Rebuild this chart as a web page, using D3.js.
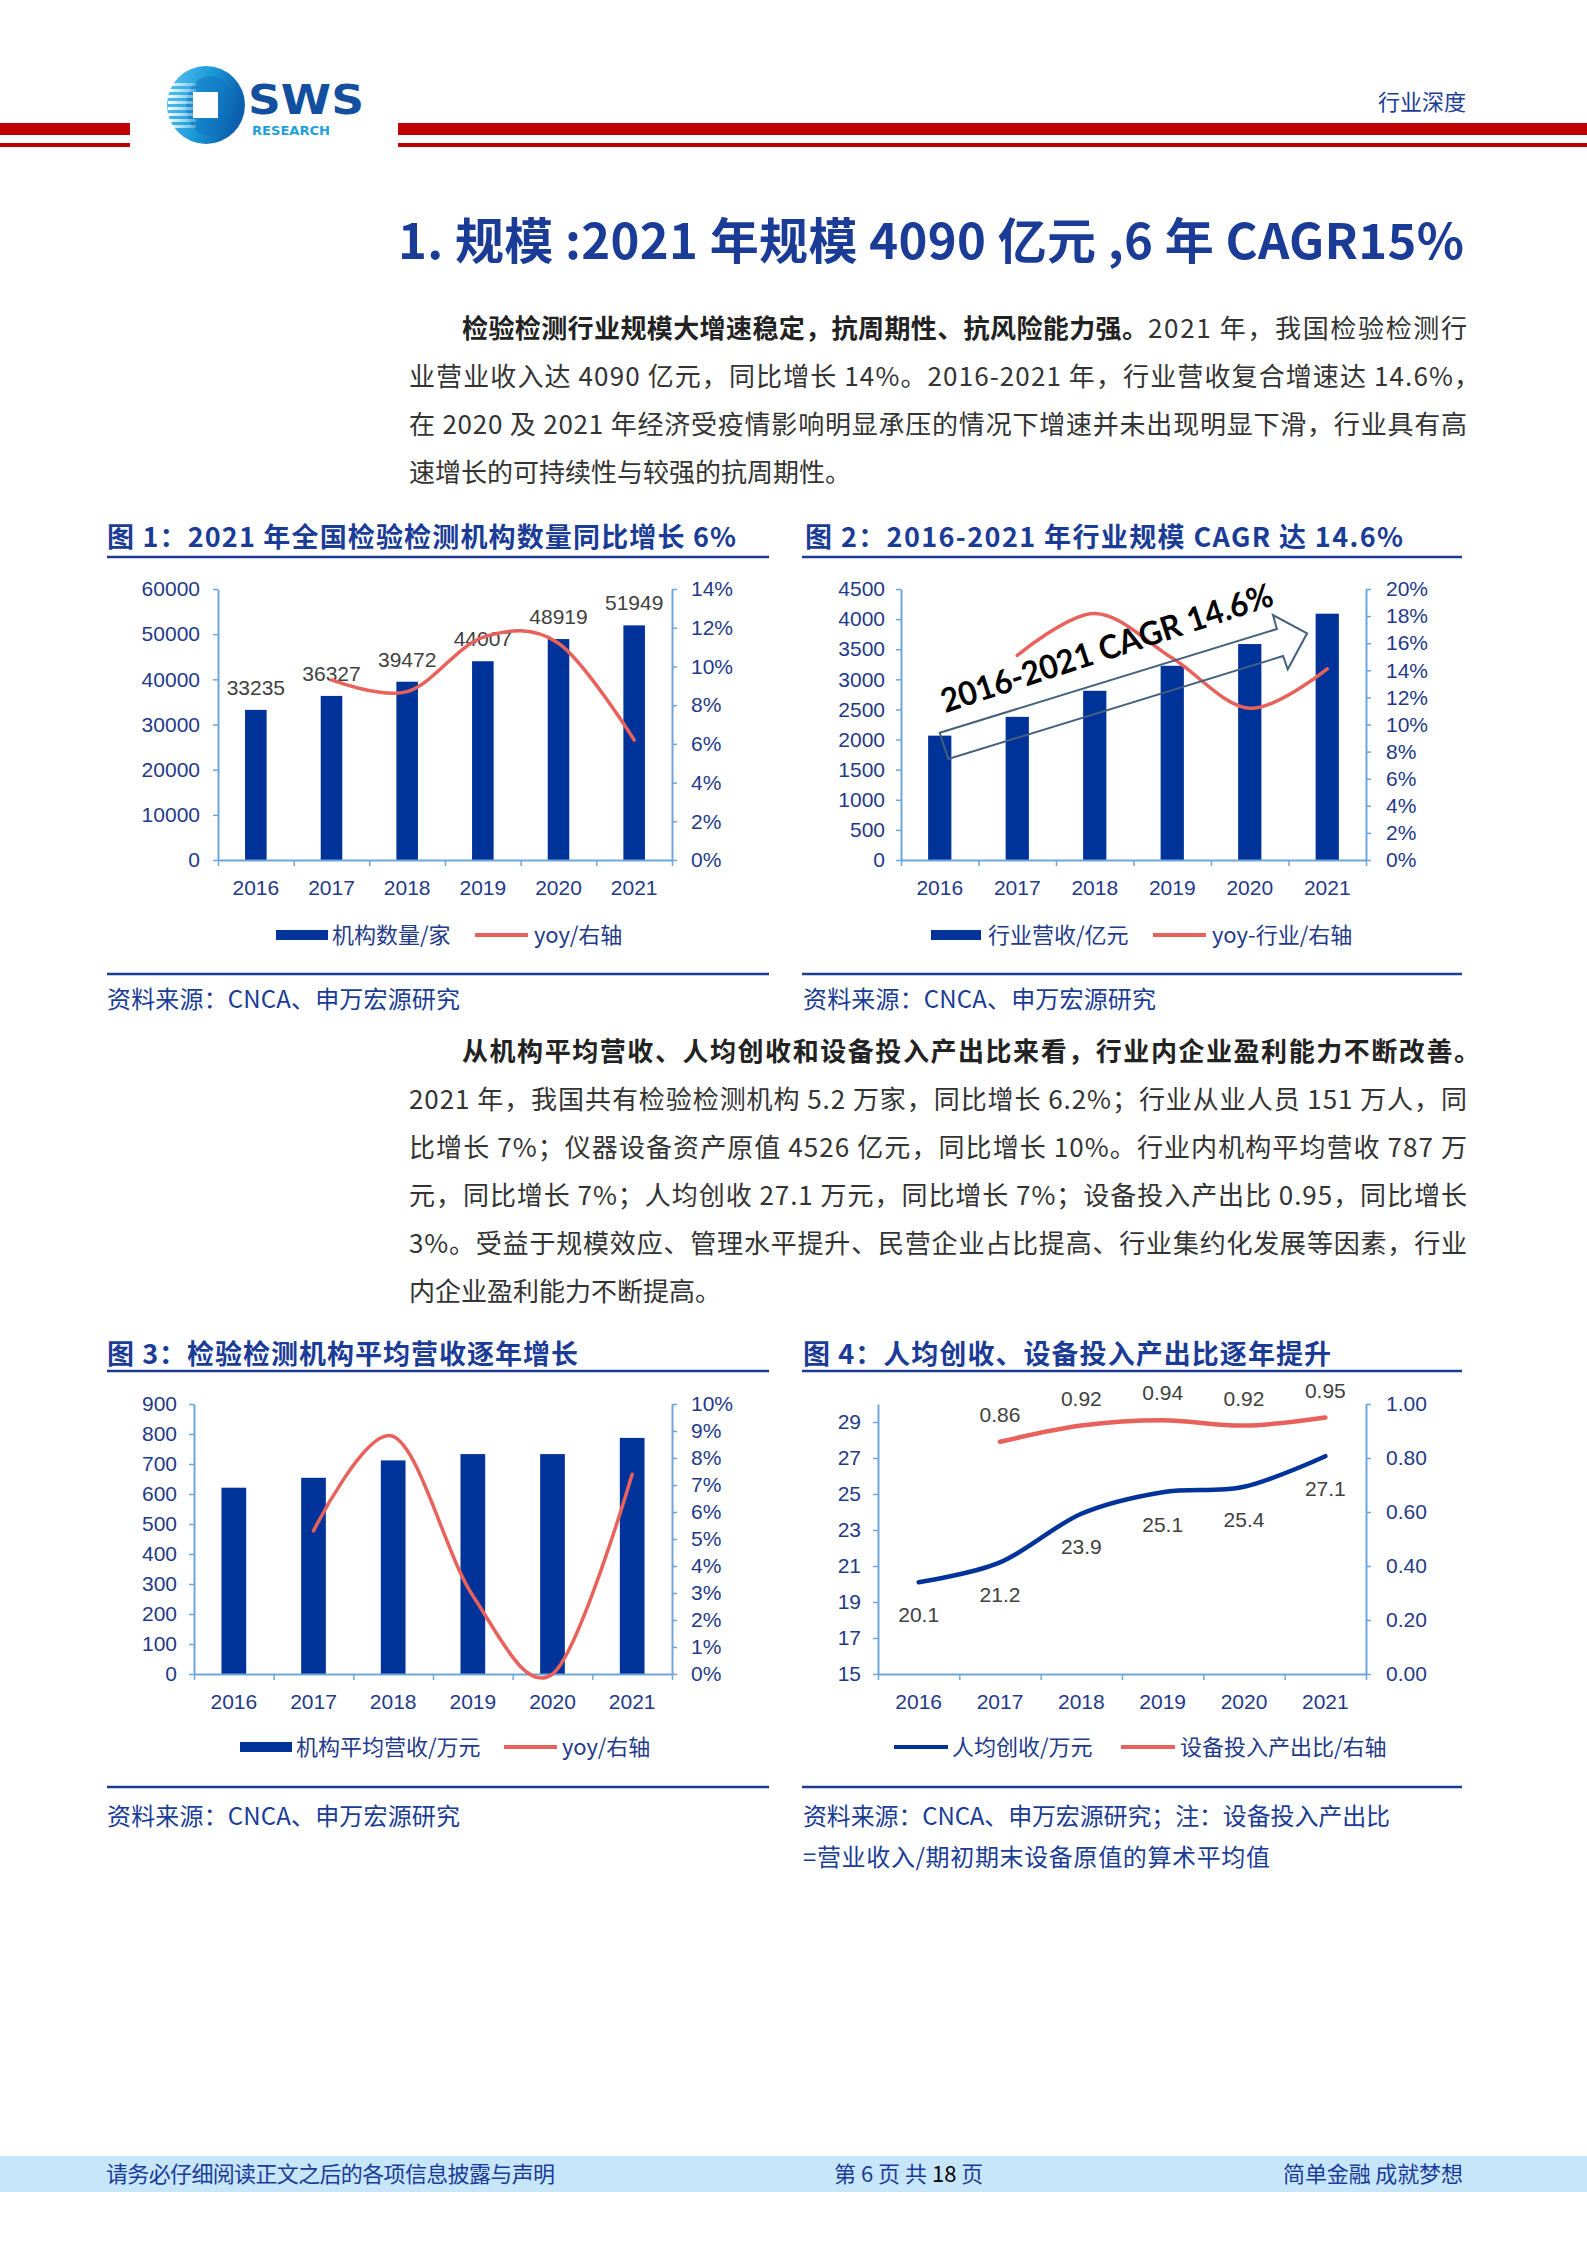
<!DOCTYPE html>
<html>
<head>
<meta charset="utf-8">
<script src="https://cdn.jsdelivr.net/npm/d3@7"></script>
<style>
  body { margin: 0; background: #fff; }
  svg { display: block; }
</style>
</head>
<body>
<script>
// ---- data ----
var years = ['2016', '2017', '2018', '2019', '2020', '2021'];

var orgCount = [33235, 36327, 39472, 44007, 48919, 51949];
var orgYoy = [null, 9.3, 8.7, 11.5, 11.2, 6.2];
var orgTicks = [0, 10000, 20000, 30000, 40000, 50000, 60000];
var orgYoyTicks = [0, 2, 4, 6, 8, 10, 12, 14];

var revenue = [2065, 2377, 2810, 3225, 3586, 4090];
var revenueYoy = [null, 15.1, 18.2, 14.9, 11.2, 14.1];
var revenueTicks = [0, 500, 1000, 1500, 2000, 2500, 3000, 3500, 4000, 4500];
var revenueYoyTicks = [0, 2, 4, 6, 8, 10, 12, 14, 16, 18, 20];

var avgRevenue = [621, 654, 712, 733, 733, 787];
var avgRevenueYoy = [null, 5.3, 8.8, 2.9, 0.0, 7.4];
var avgTicks = [0, 100, 200, 300, 400, 500, 600, 700, 800, 900];
var avgYoyTicks = [0, 1, 2, 3, 4, 5, 6, 7, 8, 9, 10];

var perCapita = [20.1, 21.2, 23.9, 25.1, 25.4, 27.1];
var outputRatio = [null, 0.86, 0.92, 0.94, 0.92, 0.95];
var perCapitaTicks = [15, 17, 19, 21, 23, 25, 27, 29];
var ratioTicks = [0, 0.2, 0.4, 0.6, 0.8, 1.0];

// CAGR arrow outline in (category index, value) units of chart 2
var cagrArrow = [[0.0, 2114], [4.35, 3836], [4.30, 4068], [4.74, 3764], [4.49, 3167], [4.43, 3387], [0.11, 1677]];
var cagrLabel = '2016-2021 CAGR 14.6%';
var cagrFrom = [0.07, 2441], cagrTo = [4.33, 4234];

var para1 = [
  '检验检测行业规模大增速稳定，抗周期性、抗风险能力强。',
  '2021 年，我国检验检测行',
  '业营业收入达 4090 亿元，同比增长 14%。2016-2021 年，行业营收复合增速达 14.6%，',
  '在 2020 及 2021 年经济受疫情影响明显承压的情况下增速并未出现明显下滑，行业具有高',
  '速增长的可持续性与较强的抗周期性。'
];
var para2 = [
  '从机构平均营收、人均创收和设备投入产出比来看，行业内企业盈利能力不断改善。',
  '2021 年，我国共有检验检测机构 5.2 万家，同比增长 6.2%；行业从业人员 151 万人，同',
  '比增长 7%；仪器设备资产原值 4526 亿元，同比增长 10%。行业内机构平均营收 787 万',
  '元，同比增长 7%；人均创收 27.1 万元，同比增长 7%；设备投入产出比 0.95，同比增长',
  '3%。受益于规模效应、管理水平提升、民营企业占比提高、行业集约化发展等因素，行业',
  '内企业盈利能力不断提高。'
];

// ---- style ----
var CJK = '"Noto Sans CJK SC", "Noto Sans", sans-serif';
var NUM = '"Liberation Sans", Arial, sans-serif';
var BLUE = '#1a3c96';
var TICK = '#1f3a8a';
var BAR = '#003399';
var RED = '#e8615a';
var AXIS = '#6ea6dc';
var LABEL = '#404040';
var TEXT = '#333333';

var W = 1587, H = 2245;
var svg = d3.select('body').append('svg').attr('width', W).attr('height', H);
svg.append('rect').attr('width', W).attr('height', H).attr('fill', '#fff');

function txt(parent, x, y, s, o) {
  o = o || {};
  var t = parent.append('text')
    .attr('x', x).attr('y', y)
    .attr('font-family', o.family || CJK)
    .attr('font-size', o.size || 26)
    .attr('font-weight', o.weight || 'normal')
    .attr('fill', o.fill || TEXT)
    .text(s);
  if (o.len) t.attr('textLength', o.len).attr('lengthAdjust', o.adjust || 'spacing');
  if (o.anchor) t.attr('text-anchor', o.anchor);
  return t;
}

// ---- header ----
var defs = svg.append('defs');
var ring = defs.append('linearGradient').attr('id', 'ring').attr('x1', 0).attr('x2', 1).attr('y1', 0).attr('y2', 0.3);
ring.append('stop').attr('offset', 0).attr('stop-color', '#5cc6f3');
ring.append('stop').attr('offset', 0.55).attr('stop-color', '#1b9ad8');
ring.append('stop').attr('offset', 1).attr('stop-color', '#0c5fae');
var fade = defs.append('linearGradient').attr('id', 'fade').attr('x1', 0).attr('x2', 1);
fade.append('stop').attr('offset', 0).attr('stop-color', '#fff').attr('stop-opacity', 0.95);
fade.append('stop').attr('offset', 1).attr('stop-color', '#fff').attr('stop-opacity', 0.25);

var logo = svg.append('g');
logo.append('circle').attr('cx', 206).attr('cy', 105).attr('r', 39).attr('fill', 'url(#ring)');
logo.append('ellipse').attr('cx', 210).attr('cy', 106).attr('rx', 24).attr('ry', 30).attr('fill', '#0e6cbb').attr('opacity', 0.45);
[83, 89, 95, 101, 107, 113, 119, 125].forEach(function(y) {
  logo.append('rect').attr('x', 168).attr('y', y).attr('width', 28).attr('height', 3).attr('fill', 'url(#fade)');
});
logo.append('rect').attr('x', 193).attr('y', 92).attr('width', 25).attr('height', 26).attr('fill', '#fff');
txt(logo, 248, 114, 'SWS', { family: '"DejaVu Sans", sans-serif', size: 40, weight: 'bold', fill: '#12509f', len: 116, adjust: 'spacingAndGlyphs' });
txt(logo, 252, 135, 'RESEARCH', { family: '"DejaVu Sans", sans-serif', size: 12, weight: 'bold', fill: '#1ea0dc', len: 78, adjust: 'spacingAndGlyphs' });

svg.append('rect').attr('x', 0).attr('y', 123).attr('width', 130).attr('height', 12).attr('fill', '#c00000');
svg.append('rect').attr('x', 0).attr('y', 143).attr('width', 130).attr('height', 4).attr('fill', '#c00000');
svg.append('rect').attr('x', 398).attr('y', 123).attr('width', W - 398).attr('height', 12).attr('fill', '#c00000');
svg.append('rect').attr('x', 398).attr('y', 143).attr('width', W - 398).attr('height', 4).attr('fill', '#c00000');
txt(svg, 1378, 110, '行业深度', { size: 22, fill: BLUE });

// ---- title and text ----
txt(svg, 398, 259, '1.  规模 :2021 年规模 4090 亿元 ,6 年 CAGR15%', { size: 49, weight: 'bold', fill: BLUE, len: 1066 });

txt(svg, 462, 338, para1[0], { weight: 'bold', fill: '#222', len: 686 });
txt(svg, 1148, 338, para1[1], { len: 319 });
txt(svg, 409, 386, para1[2], { len: 1071 });
txt(svg, 409, 434, para1[3], { len: 1058 });
txt(svg, 409, 482, para1[4]);

txt(svg, 462, 1061, para2[0], { weight: 'bold', fill: '#222', len: 1018 });
[1, 2, 3, 4].forEach(function(i) {
  txt(svg, 409, 1061 + 48 * i, para2[i], { len: 1058 });
});
txt(svg, 409, 1301, para2[5]);

// ---- chart frames ----
function rule(x0, x1, y) {
  svg.append('line').attr('x1', x0).attr('x2', x1).attr('y1', y).attr('y2', y)
    .attr('stroke', '#1c3c94').attr('stroke-width', 2.5);
}
rule(107, 769, 557); rule(802, 1462, 557);
rule(107, 769, 974); rule(802, 1462, 974);
rule(107, 769, 1371); rule(802, 1462, 1371);
rule(107, 769, 1787); rule(802, 1462, 1787);

txt(svg, 107, 547, '图 1：2021 年全国检验检测机构数量同比增长 6%', { size: 27, weight: 'bold', fill: BLUE, len: 629 });
txt(svg, 805, 547, '图 2：2016-2021 年行业规模 CAGR 达 14.6%', { size: 27, weight: 'bold', fill: BLUE, len: 598 });
txt(svg, 107, 1364, '图 3：检验检测机构平均营收逐年增长', { size: 27, weight: 'bold', fill: BLUE, len: 471 });
txt(svg, 803, 1364, '图 4：人均创收、设备投入产出比逐年提升', { size: 27, weight: 'bold', fill: BLUE, len: 528 });

txt(svg, 107, 1008, '资料来源：CNCA、申万宏源研究', { size: 24, fill: BLUE, len: 353 });
txt(svg, 803, 1008, '资料来源：CNCA、申万宏源研究', { size: 24, fill: BLUE, len: 353 });
txt(svg, 107, 1825, '资料来源：CNCA、申万宏源研究', { size: 24, fill: BLUE, len: 353 });
txt(svg, 803, 1825, '资料来源：CNCA、申万宏源研究；注：设备投入产出比', { size: 24, fill: BLUE, len: 587 });
txt(svg, 803, 1866, '=营业收入/期初期末设备原值的算术平均值', { size: 24, fill: BLUE, len: 467 });

// ---- chart builder ----
function styleAxis(sel) {
  sel.attr('font-family', NUM).attr('font-size', 21);
  sel.select('.domain').attr('stroke', AXIS).attr('stroke-width', 2);
  sel.selectAll('.tick line').attr('stroke', AXIS).attr('stroke-width', 1.5);
  sel.selectAll('.tick text').attr('fill', TICK);
}

function combo(o) {
  var g = svg.append('g');
  var xb = d3.scaleBand().domain(years).range([o.x0, o.x1]).paddingInner(o.inner || 0.7).paddingOuter((o.inner || 0.7) / 2);
  var xi = d3.scaleLinear().domain([0, years.length]).range([o.x0, o.x1]);
  var yl = d3.scaleLinear().domain(o.left.domain).range([o.yB, o.yT]);
  var yr = d3.scaleLinear().domain(o.right.domain).range([o.yB, o.yT]);
  var cx = function(i) { return xb(years[i]) + xb.bandwidth() / 2; };

  if (o.bars) {
    g.append('g').selectAll('rect').data(o.bars).join('rect')
      .attr('x', function(d, i) { return xb(years[i]); })
      .attr('width', xb.bandwidth())
      .attr('y', function(d) { return yl(d); })
      .attr('height', function(d) { return o.yB - yl(d); })
      .attr('fill', BAR);
  }

  g.append('g').attr('transform', 'translate(' + o.x0 + ',0)')
    .call(d3.axisLeft(yl).tickValues(o.left.ticks).tickFormat(o.left.fmt).tickSize(5).tickSizeOuter(0).tickPadding(o.left.pad))
    .call(styleAxis);
  g.append('g').attr('transform', 'translate(' + o.x1 + ',0)')
    .call(d3.axisRight(yr).tickValues(o.right.ticks).tickFormat(o.right.fmt).tickSize(5).tickSizeOuter(0).tickPadding(o.right.pad))
    .call(styleAxis);
  g.append('g').attr('transform', 'translate(0,' + o.yB + ')')
    .call(d3.axisBottom(xi).tickValues(d3.range(0, years.length + 1)).tickFormat('').tickSize(6).tickSizeOuter(0))
    .call(styleAxis);
  g.append('g').attr('transform', 'translate(0,' + o.yB + ')')
    .call(d3.axisBottom(xb).tickSize(0).tickPadding(20))
    .call(styleAxis)
    .call(function(s) { s.select('.domain').remove(); });

  if (o.bars && o.barLabels) {
    g.append('g').selectAll('text').data(o.bars).join('text')
      .attr('x', function(d, i) { return cx(i); })
      .attr('y', function(d) { return yl(d) - 15; })
      .attr('text-anchor', 'middle')
      .attr('font-family', NUM).attr('font-size', 21).attr('fill', LABEL)
      .text(function(d) { return d; });
  }

  (o.lines || []).forEach(function(ln) {
    var ys = ln.axis === 'left' ? yl : yr;
    var pts = ln.values.map(function(v, i) { return { i: i, v: v }; }).filter(function(d) { return d.v != null; });
    g.append('path').datum(pts)
      .attr('d', d3.line().x(function(d) { return cx(d.i); }).y(function(d) { return ys(d.v); }).curve(d3.curveCardinal.tension(0)))
      .attr('fill', 'none').attr('stroke', ln.color).attr('stroke-width', ln.width || 4)
      .attr('stroke-linecap', 'round');
    if (ln.labels) {
      g.append('g').selectAll('text').data(pts).join('text')
        .attr('x', function(d) { return cx(d.i); })
        .attr('y', function(d) { return ys(d.v) + ln.labels.dy; })
        .attr('text-anchor', 'middle')
        .attr('font-family', NUM).attr('font-size', 21).attr('fill', LABEL)
        .text(function(d) { return ln.labels.fmt(d.v); });
    }
  });

  // legend
  var lg = g.append('g');
  o.legend.forEach(function(it) {
    if (it.type === 'bar') {
      lg.append('rect').attr('x', it.s0).attr('y', o.legendY - 5).attr('width', it.s1 - it.s0).attr('height', 10).attr('fill', BAR);
    } else {
      lg.append('line').attr('x1', it.s0).attr('x2', it.s1).attr('y1', o.legendY).attr('y2', o.legendY)
        .attr('stroke', it.color).attr('stroke-width', 4);
    }
    txt(lg, it.tx, o.legendY + 8, it.label, { size: 22, fill: TICK });
  });

  return { g: g, xi: xi, yl: yl, yr: yr };
}

var pct = function(d) { return d + '%'; };
var plain = function(d) { return d; };

combo({
  x0: 218, x1: 672, yT: 589, yB: 860, inner: 0.715,
  left: { domain: [0, 60000], ticks: orgTicks, fmt: plain, pad: 13 },
  right: { domain: [0, 14], ticks: orgYoyTicks, fmt: pct, pad: 14 },
  bars: orgCount, barLabels: true,
  lines: [{ values: orgYoy, axis: 'right', color: RED, width: 3.5 }],
  legendY: 935,
  legend: [
    { type: 'bar', s0: 276, s1: 328, tx: 332, label: '机构数量/家' },
    { type: 'line', color: RED, s0: 475, s1: 528, tx: 534, label: 'yoy/右轴' }
  ]
});

var c2 = combo({
  x0: 901, x1: 1366, yT: 589, yB: 860, inner: 0.70,
  left: { domain: [0, 4500], ticks: revenueTicks, fmt: plain, pad: 11 },
  right: { domain: [0, 20], ticks: revenueYoyTicks, fmt: pct, pad: 15 },
  bars: revenue,
  lines: [{ values: revenueYoy, axis: 'right', color: RED, width: 3.5 }],
  legendY: 935,
  legend: [
    { type: 'bar', s0: 931, s1: 981, tx: 988, label: '行业营收/亿元' },
    { type: 'line', color: RED, s0: 1153, s1: 1206, tx: 1212, label: 'yoy-行业/右轴' }
  ]
});

// CAGR arrow annotation on chart 2
var ax = function(p) { return c2.xi(p[0] + 0.5); };
var ay = function(p) { return c2.yl(p[1]); };
c2.g.append('path')
  .attr('d', d3.line().x(ax).y(ay)(cagrArrow) + 'Z')
  .attr('fill', 'none').attr('stroke', '#44607f').attr('stroke-width', 2);
var a0x = ax(cagrFrom), a0y = ay(cagrFrom), a1x = ax(cagrTo), a1y = ay(cagrTo);
var ang = Math.atan2(a1y - a0y, a1x - a0x) * 180 / Math.PI;
c2.g.append('text')
  .attr('transform', 'translate(' + a0x + ',' + a0y + ') rotate(' + ang + ')')
  .attr('font-family', 'Lato, "Open Sans", sans-serif').attr('font-weight', 'bold').attr('font-size', 33)
  .attr('fill', '#000')
  .attr('textLength', Math.hypot(a1x - a0x, a1y - a0y)).attr('lengthAdjust', 'spacingAndGlyphs')
  .text(cagrLabel);

combo({
  x0: 194, x1: 672, yT: 1404, yB: 1674, inner: 0.69,
  left: { domain: [0, 900], ticks: avgTicks, fmt: plain, pad: 12 },
  right: { domain: [0, 10], ticks: avgYoyTicks, fmt: pct, pad: 14 },
  bars: avgRevenue,
  lines: [{ values: avgRevenueYoy, axis: 'right', color: RED, width: 3.5 }],
  legendY: 1747,
  legend: [
    { type: 'bar', s0: 240, s1: 292, tx: 296, label: '机构平均营收/万元' },
    { type: 'line', color: RED, s0: 504, s1: 557, tx: 562, label: 'yoy/右轴' }
  ]
});

combo({
  x0: 878, x1: 1366, yT: 1404, yB: 1674,
  left: { domain: [15, 30], ticks: perCapitaTicks, fmt: plain, pad: 12 },
  right: { domain: [0, 1], ticks: ratioTicks, fmt: d3.format('.2f'), pad: 15 },
  lines: [
    { values: perCapita, axis: 'left', color: BAR, width: 4.5, labels: { dy: 40, fmt: d3.format('.1f') } },
    { values: outputRatio, axis: 'right', color: RED, width: 4.5, labels: { dy: -20, fmt: d3.format('.2f') } }
  ],
  legendY: 1747,
  legend: [
    { type: 'line', color: BAR, s0: 894, s1: 948, tx: 952, label: '人均创收/万元' },
    { type: 'line', color: RED, s0: 1121, s1: 1175, tx: 1180, label: '设备投入产出比/右轴' }
  ]
});

// ---- footer ----
svg.append('rect').attr('x', 0).attr('y', 2156).attr('width', W).attr('height', 36).attr('fill', '#c8e6f9');
txt(svg, 106, 2182, '请务必仔细阅读正文之后的各项信息披露与声明', { size: 22, fill: BLUE, len: 449 });
var pg = txt(svg, 834, 2182, '', { size: 22, fill: BLUE });
pg.append('tspan').text('第 6 页 共 ');
pg.append('tspan').attr('fill', '#000').text('18');
pg.append('tspan').text(' 页');
txt(svg, 1283, 2182, '简单金融 成就梦想', { size: 22, fill: BLUE, len: 180 });
</script>
</body>
</html>
